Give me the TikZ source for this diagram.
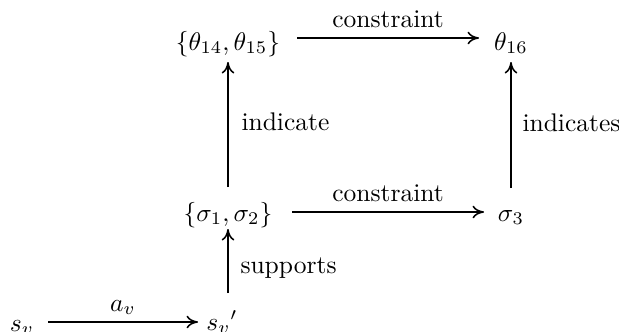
\documentclass[tikz,border=0pt]{standalone}
\usetikzlibrary{arrows.meta}
\begin{document}
\begin{tikzpicture}[x=0.392pt,y=-0.392pt,
  lbl/.style={inner sep=0pt,anchor=base},
  lft/.style={inner sep=0pt,anchor=base west},
  arr/.style={-{To[length=4.5pt,width=5pt]},line width=0.6pt}]
\useasboundingbox (0,0) rectangle (619,331);
\node[lbl] (t1415) at (228,50) {$\{\theta_{14},\theta_{15}\}$};
\node[lbl] (t16) at (511,50) {$\theta_{16}$};
\node[lbl] (s12) at (228,221) {$\{\sigma_1,\sigma_2\}$};
\node[lbl] (s3) at (511,221) {$\sigma_3$};
\node[lbl] (sv) at (22,331) {$s_v$};
\node[lbl] (svp) at (222,330) {${s_v}'$};
\coordinate (a1) at (297,38); \coordinate (b1) at (479,38);
\draw[arr] (a1) -- node[lbl,yshift=4pt] (c1) {constraint} (b1);
\coordinate (a2) at (292,212); \coordinate (b2) at (484,212);
\draw[arr] (a2) -- node[lbl,yshift=4pt] (c2) {constraint} (b2);
\coordinate (a3) at (48,322); \coordinate (b3) at (198,322);
\draw[arr] (a3) -- node[lbl,yshift=4.3pt] (c3) {$a_v$} (b3);
\draw[arr] (s12.north |- 0,187) -- (t1415.south |- 0,62);
\draw[arr] (s3.north |- 0,188) -- (t16.south |- 0,62);
\draw[arr] (s12.south |- 0,293) -- (s12.south |- 0,229);
\node[lft] (l1) at (241,130) {indicate};
\node[lft] (l2) at (522,131) {indicates};
\node[lft] (l3) at (240,273) {supports};
\end{tikzpicture}
\end{document}
